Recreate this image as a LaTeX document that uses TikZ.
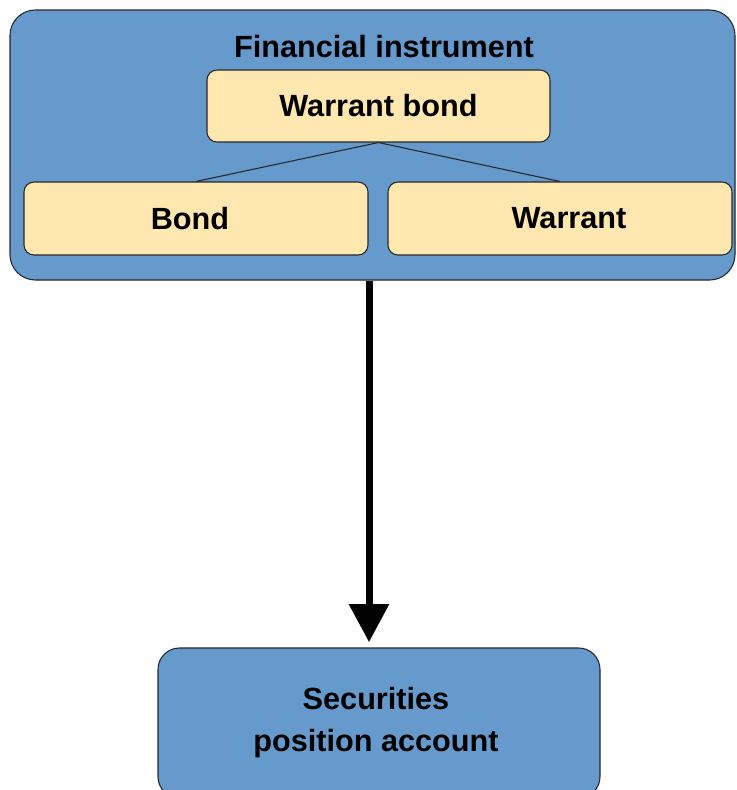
\documentclass[tikz,border=0pt]{standalone}
\usepackage{fontspec}
\setmainfont{Liberation Sans}
\usetikzlibrary{arrows.meta}
\definecolor{boxblue}{HTML}{6699CC}
\definecolor{boxyellow}{HTML}{FFE8B0}
\begin{document}
\begin{tikzpicture}[x=0.75pt,y=-0.75pt,
  lbl/.style={font=\fontsize{23}{31.5}\selectfont\bfseries, text=black},
  bluebox/.style={draw=black!85, line width=0.8pt, fill=boxblue, rectangle, inner sep=0pt},
  yellowbox/.style={draw=black!85, line width=0.8pt, fill=boxyellow, rectangle, rounded corners=7.5pt, inner sep=0pt, lbl},
  link/.style={draw=black!85, line width=0.8pt},
  bigarrow/.style={line width=5.25pt, -{Triangle[width=29pt,length=28.5pt]}, shorten >=4pt}]
\useasboundingbox (0,0) rectangle (737,790);
% outer container
\node[bluebox, rounded corners=19pt, minimum width=725*0.75pt, minimum height=270*0.75pt] (fi) at (372.5,145) {};
\node[lbl] (fititle) at (384,47) {Financial instrument};
% inner boxes
\node[yellowbox, minimum width=343*0.75pt, minimum height=72*0.75pt] (wb) at (378.5,106) {Warrant bond};
\node[yellowbox, minimum width=344*0.75pt, minimum height=73*0.75pt] (bond) at (196,218.5) {};
\node[lbl] (bondtext) at (190,218.5) {Bond};
\node[yellowbox, minimum width=344*0.75pt, minimum height=73*0.75pt] (warrant) at (560,218.5) {};
\node[lbl] (warranttext) at (569,218.5) {Warrant};
\draw[link] (wb.south) -- (bond.north);
\draw[link] (wb.south) -- (warrant.north);
% account
\node[bluebox, rounded corners=16pt, minimum width=442*0.75pt, minimum height=150*0.75pt] (acct) at (379,723) {};
\node[lbl, align=center] (accttext) at (376,723) {Securities\\position account};
% arrow
\coordinate (ax) at (369,0);
\draw[bigarrow] (fi.south -| ax) -- (acct.north -| ax);
\end{tikzpicture}
\end{document}
